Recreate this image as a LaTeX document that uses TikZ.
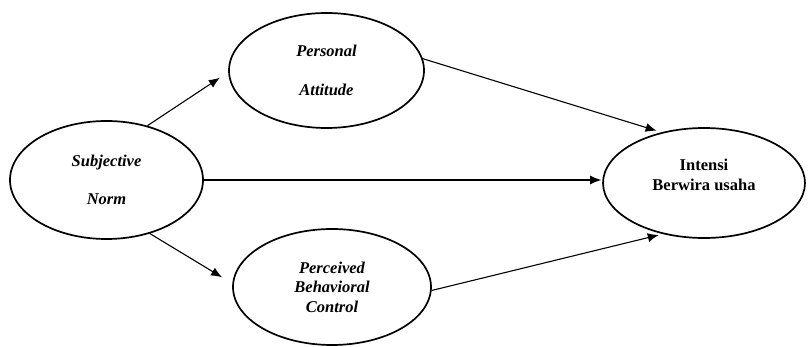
\documentclass[tikz,border=0pt]{standalone}
\usepackage{fontspec}
\setmainfont{Liberation Serif}
\usetikzlibrary{arrows.meta,shapes.geometric}

\begin{document}
\begin{tikzpicture}[x=1pt,y=-1pt,->,>={Latex[length=11pt,width=9pt]},line width=1.1pt,auto]
  \tikzstyle{construct}=[ellipse,draw,line width=1.7pt,inner sep=0pt,align=center,font=\fontsize{16.5}{19.5}\selectfont\bfseries\itshape]
  \useasboundingbox (0,0) rectangle (808,347);

  \node[construct,minimum width=193,minimum height=118] (SN) at (106.5,180) {Subjective\\[19pt]Norm};
  \node[construct,minimum width=195,minimum height=115] (PA) at (326.5,70.5) {Personal\\[19pt]Attitude};
  \node[construct,minimum width=198,minimum height=116] (PBC) at (332,287) {Perceived\\Behavioral\\Control};
  \node[construct,minimum width=202,minimum height=110,
        label={[yshift=8pt,align=center,font=\fontsize{16.5}{19.5}\selectfont\bfseries]center:Intensi\\Berwira usaha}] (INT) at (704,183) {};

  \path (SN.53) edge[shorten >=10pt] (PA.181)
	(SN.-51) edge[shorten >=12pt] (PBC.178)
	(SN.east) edge[shorten >=1pt] (SN.east -| INT.west)
	(PA.7) edge[shorten >=5pt] (INT.130)
	(PBC.-2) edge[shorten >=4pt] (INT.231);
\end{tikzpicture}
\end{document}
